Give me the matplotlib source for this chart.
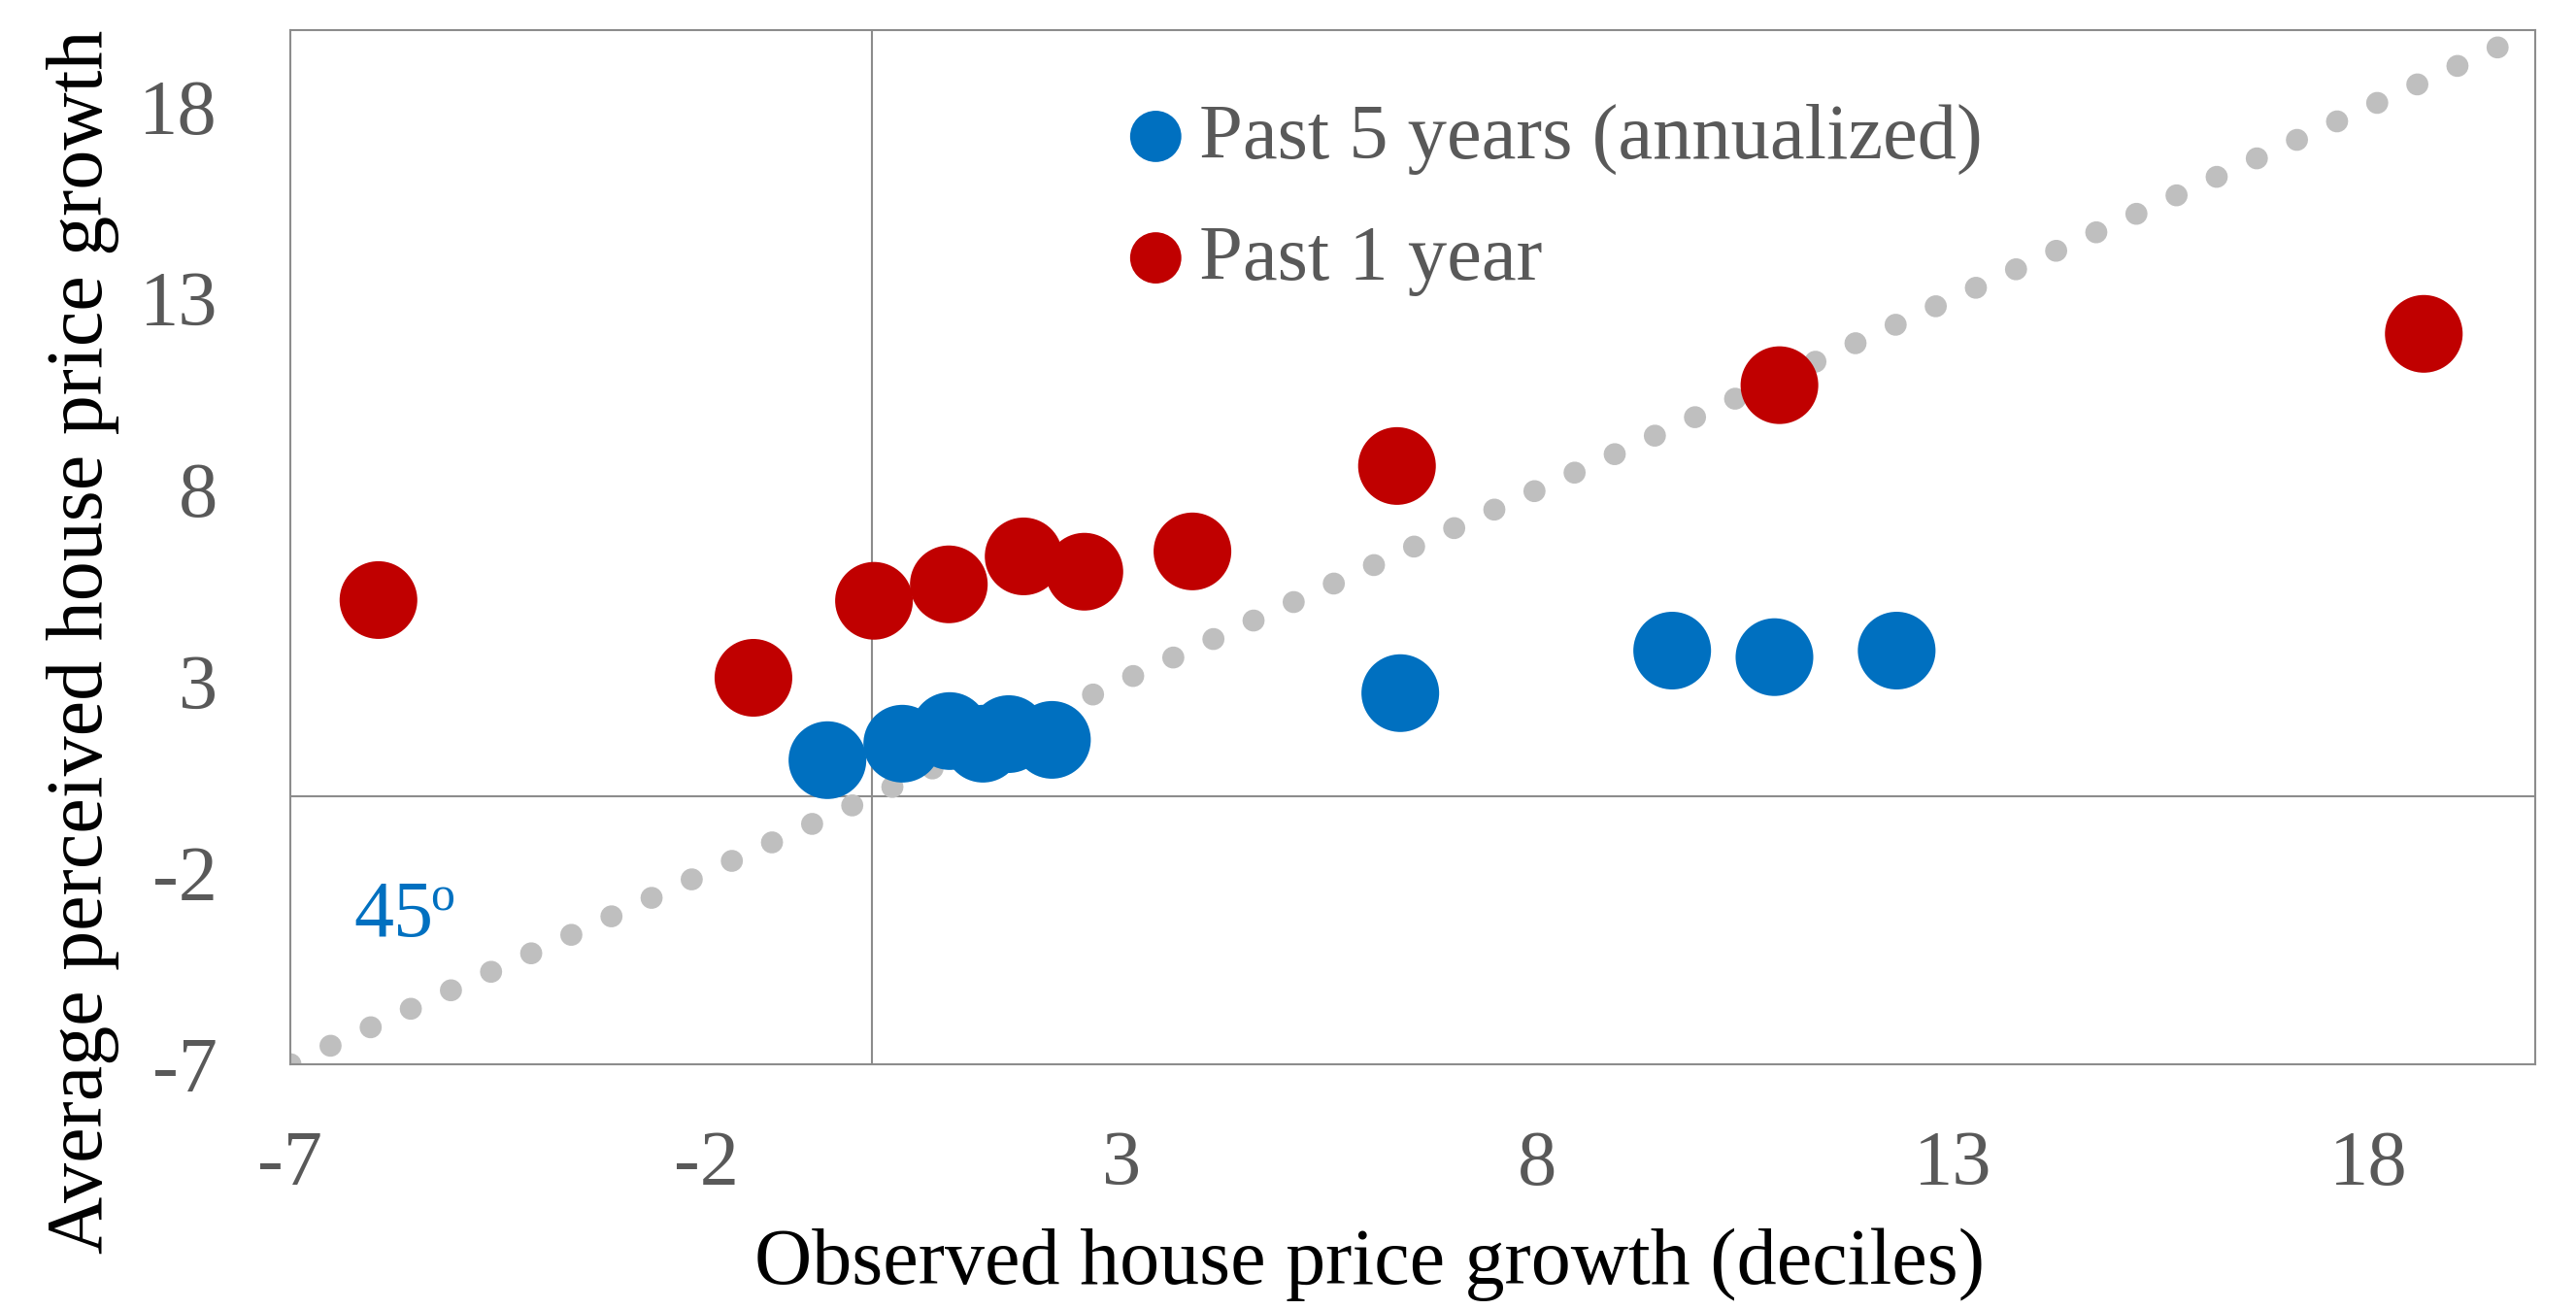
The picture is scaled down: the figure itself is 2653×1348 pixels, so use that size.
import numpy as np
import matplotlib
matplotlib.use("Agg")
import matplotlib.pyplot as plt

plt.rcParams['font.family'] = ['Liberation Serif', 'DejaVu Serif']
plt.rcParams['axes.unicode_minus'] = False

# observed growth (x) vs average perceived growth (y)
five_x = [-0.54, 0.36, 0.93, 1.33, 1.64, 2.16, 6.35, 9.62, 10.85, 12.32]
five_y = [0.94, 1.37, 1.70, 1.37, 1.62, 1.47, 2.69, 3.80, 3.63, 3.80]
one_x = [-5.94, -1.43, 0.02, 0.92, 1.82, 2.55, 3.85, 6.31, 10.91, 18.66]
one_y = [5.12, 3.09, 5.10, 5.53, 6.26, 5.86, 6.39, 8.62, 10.73, 12.07]
ticks = [-7, -2, 3, 8, 13, 18]
lims = [-7, 20]

blue = '#0070C0'
red = '#C00000'
gray_txt = '#595959'
gray_line = '#8C8C8C'

fig = plt.figure(figsize=(26.53, 13.48), dpi=100)
ax = fig.add_axes([299 / 2653, 1 - 1096 / 1348, 2312 / 2653, 1065 / 1348])

# 45 degree reference line, round dots
ax.plot(lims, lims, color='#BFBFBF', lw=16.3, linestyle=(0, (0.01, 2.0)),
        dash_capstyle='round', zorder=1, clip_on=True)
ax.axhline(0, color=gray_line, lw=1.5, zorder=0)
ax.axvline(0, color=gray_line, lw=1.5, zorder=0)

ax.scatter(five_x, five_y, s=3320, color=blue, edgecolors='none', zorder=3,
           label='Past 5 years (annualized)')
ax.scatter(one_x, one_y, s=3320, color=red, edgecolors='none', zorder=3,
           label='Past 1 year')

ax.set_xlim(lims)
ax.set_ylim(lims)
ax.set_xticks(ticks)
ax.set_yticks(ticks)
ax.tick_params(axis='both', length=0, labelsize=58, labelcolor=gray_txt)
ax.tick_params(axis='x', pad=49)
ax.tick_params(axis='y', pad=54)
for sp in ax.spines.values():
    sp.set_color(gray_line)
    sp.set_linewidth(1.5)

ax.set_xlabel('Observed house price growth (deciles)', fontsize=59, color='black')
ax.set_ylabel('Average perceived house price growth', fontsize=59, color='black')
ax.xaxis.set_label_coords(0.4806, -0.158)
ax.yaxis.set_label_coords(-0.076, 0.409)

ax.text(-6.24, -3.65, '45', color=blue, fontsize=59, ha='left', va='baseline')
ax.text(-5.32, -2.99, 'o', color=blue, fontsize=36, ha='left', va='baseline')

leg = ax.legend(loc='upper left', bbox_to_anchor=(0.374, 0.929), frameon=False,
                fontsize=58, markerscale=0.66, handlelength=0.66, handletextpad=0.23,
                labelspacing=0.64, borderpad=0, borderaxespad=0,
                scatterpoints=1, scatteryoffsets=[0.4])
for t in leg.get_texts():
    t.set_color(gray_txt)

fig.savefig('out.png', dpi=100)
